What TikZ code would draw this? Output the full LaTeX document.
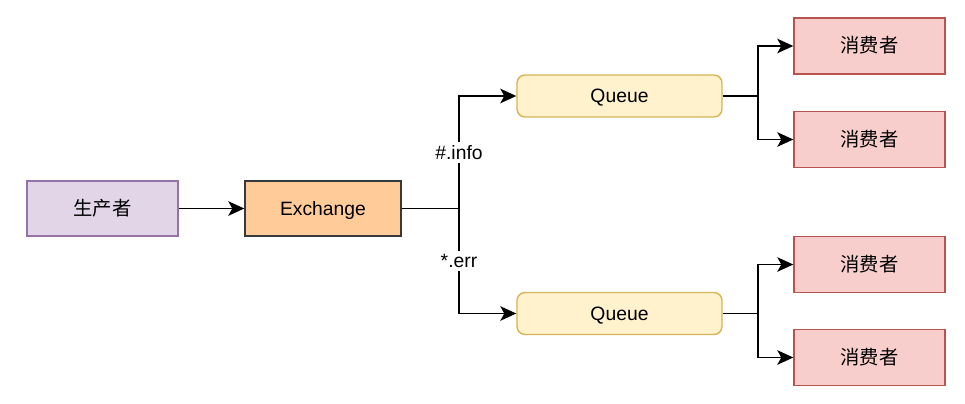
\documentclass[tikz,border=0pt]{standalone}
\usepackage{fontspec}
\setmainfont{Liberation Sans}
\newfontfamily\cjk{Noto Sans CJK SC}
\usetikzlibrary{positioning, arrows.meta}
\definecolor{prodfill}{HTML}{E1D5E7}
\definecolor{proddraw}{HTML}{9673A6}
\definecolor{exfill}{HTML}{FFCC99}
\definecolor{exdraw}{HTML}{36393D}
\definecolor{qfill}{HTML}{FFF2CC}
\definecolor{qdraw}{HTML}{D6B656}
\definecolor{consfill}{HTML}{F8CECC}
\definecolor{consdraw}{HTML}{B85450}

\begin{document}
\begin{tikzpicture}[
    x=0.02cm, y=-0.02cm,
    font=\fontsize{11}{13}\selectfont,
    box/.style={rectangle, line width=0.8pt, inner sep=0pt, text height=7.9pt, text depth=0pt},
    producer/.style={box, fill=prodfill, draw=proddraw, minimum width=3.02cm, minimum height=1.1cm},
    exch/.style={box, fill=exfill, draw=exdraw, minimum width=3.12cm, minimum height=1.1cm},
    queue/.style={box, fill=qfill, draw=qdraw, rounded corners=0.16cm, minimum width=4.1cm, minimum height=0.84cm},
    consumer/.style={box, fill=consfill, draw=consdraw, minimum width=3.02cm, minimum height=1.12cm},
    link/.style={line width=1.1pt, -{Stealth[length=0.32cm, width=0.29cm, inset=0.08cm]}},
    tag/.style={fill=white, inner sep=2pt}
]

\useasboundingbox (0,0) rectangle (965,403);

% Nodes
\node[producer] (P) at (102.5,208.5) {\cjk 生产者};
\node[exch] (E) at (323,208.5) {Exchange};
\node[queue] (Q1) at (619.5,96) {Queue};
\node[queue] (Q2) at (619.5,313.5) {Queue};
\node[consumer] (C1) at (869.5,46) {\cjk 消费者};
\node[consumer] (C2) at (869.5,139.5) {\cjk 消费者};
\node[consumer] (C3) at (869.5,264.5) {\cjk 消费者};
\node[consumer] (C4) at (869.5,357.5) {\cjk 消费者};

% Branch points
\coordinate (S0) at (459,208.5);
\coordinate (S1) at (758,96);
\coordinate (S2) at (758,313.5);

% Producer to exchange
\draw[link] (P) -- (E);

% Exchange to queues (routing keys)
\draw[link] (E.east) -- (S0) |- node[pos=.25, tag] {\#.info} (Q1);
\draw[link] (S0) |- node[pos=.25, tag] {*.err} (Q2);

% Queues to consumers
\draw[link] (Q1.east) -- (S1) |- (C1);
\draw[link] (S1) |- (C2);
\draw[link] (Q2.east) -- (S2) |- (C3);
\draw[link] (S2) |- (C4);

\end{tikzpicture}
\end{document}
